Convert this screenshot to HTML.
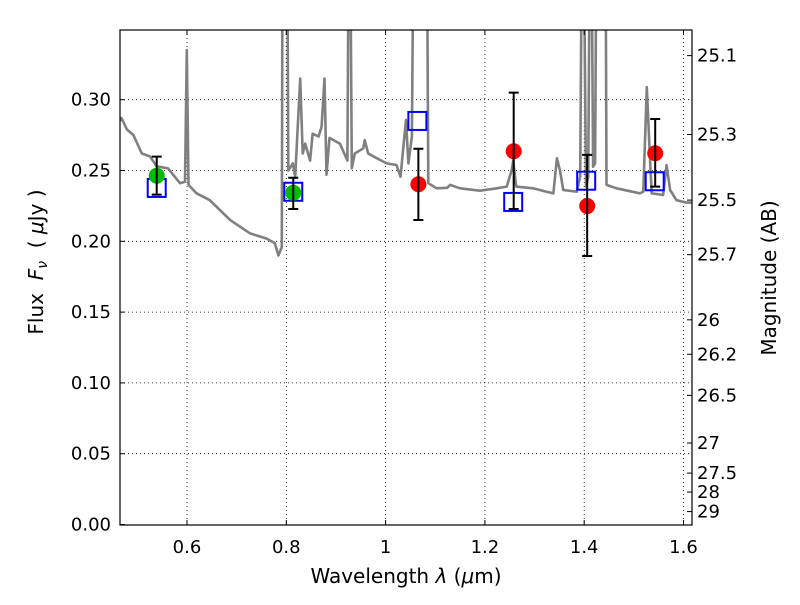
<!DOCTYPE html>
<html><head><meta charset="utf-8"><style>
body{margin:0;background:#fff;}
svg{font-family:"DejaVu Sans","Liberation Sans",sans-serif;}
</style></head><body>
<svg id="chart" width="800" height="600" viewBox="0 0 800 600" xmlns="http://www.w3.org/2000/svg">
<defs><clipPath id="pc"><rect x="120" y="30" width="572" height="495"/></clipPath></defs>
<rect x="0" y="0" width="800" height="600" fill="#fff"/>
<g id="grid"></g>
<g id="spec" clip-path="url(#pc)"></g>
<g id="marks" clip-path="url(#pc)"></g>
<rect x="120" y="30" width="572" height="495" fill="none" stroke="#000" stroke-width="1.2"/>
<g id="axes"></g>
<text x="406" y="583" font-size="20" text-anchor="middle">Wavelength  <tspan font-style="italic">λ</tspan> (<tspan font-style="italic">μ</tspan>m)</text>
<text transform="translate(43,262) rotate(-90)" font-size="20" text-anchor="middle" xml:space="preserve">Flux  <tspan font-style="italic">F</tspan><tspan font-style="italic" font-size="14" dy="4">ν</tspan><tspan dy="-4">  ( </tspan><tspan font-style="italic">μ</tspan>Jy )</text>
<text transform="translate(776,278) rotate(-90)" font-size="20" text-anchor="middle">Magnitude (AB)</text>
</svg>
<script>
const xTicks=[0.6,0.8,1.0,1.2,1.4,1.6];
const xTickLabels=["0.6","0.8","1","1.2","1.4","1.6"];
const yTicks=[0,0.05,0.10,0.15,0.20,0.25,0.30];
const yTickLabels=["0.00","0.05","0.10","0.15","0.20","0.25","0.30"];
const magTicks=[25.1,25.3,25.5,25.7,26,26.2,26.5,27,27.5,28,29];
const magTickLabels=["25.1","25.3","25.5","25.7","26","26.2","26.5","27","27.5","28","29"];
const specLam=[0.465,0.468,0.479,0.492,0.509,0.525,0.539,0.562,0.586,0.596,0.5995,0.603,0.619,0.646,0.687,0.727,0.760,0.777,0.784,0.791,0.793,0.797,0.801,0.804,0.813,0.818,0.828,0.833,0.838,0.848,0.853,0.865,0.871,0.877,0.881,0.887,0.908,0.923,0.927,0.932,0.938,0.955,0.958,0.965,0.975,1.002,1.022,1.030,1.041,1.046,1.053,1.058,1.082,1.086,1.103,1.124,1.130,1.150,1.190,1.224,1.244,1.254,1.257,1.263,1.297,1.324,1.338,1.345,1.351,1.358,1.385,1.392,1.397,1.4036,1.408,1.413,1.418,1.422,1.426,1.430,1.436,1.442,1.445,1.465,1.512,1.519,1.526,1.533,1.536,1.559,1.566,1.573,1.586,1.606,1.617];
const specFlux=[0.285,0.287,0.279,0.275,0.262,0.260,0.253,0.2515,0.241,0.242,0.335,0.240,0.234,0.229,0.215,0.2056,0.202,0.1986,0.190,0.196,0.50,0.40,0.50,0.250,0.255,0.2456,0.315,0.262,0.269,0.257,0.276,0.274,0.281,0.315,0.247,0.273,0.269,0.257,0.50,0.2516,0.262,0.2657,0.2715,0.262,0.260,0.255,0.2539,0.2456,0.2857,0.255,0.274,0.50,0.50,0.241,0.2374,0.2378,0.2398,0.2374,0.2357,0.2374,0.2386,0.2503,0.257,0.2386,0.2374,0.235,0.2339,0.2586,0.2503,0.2362,0.235,0.2456,0.50,0.2386,0.245,0.50,0.2527,0.255,0.50,0.50,0.50,0.50,0.2398,0.2374,0.2339,0.235,0.309,0.255,0.2339,0.2327,0.2539,0.2362,0.229,0.2273,0.2273];
const greenLam=[0.539,0.814];
const greenFlux=[0.2463,0.2343];
const greenErrLo=[0.2330,0.2228];
const greenErrHi=[0.2598,0.2449];
const redLam=[1.066,1.258,1.406,1.543];
const redFlux=[0.2403,0.2636,0.2249,0.2622];
const redErrLo=[0.2150,0.2228,0.1896,0.2386];
const redErrHi=[0.2654,0.3050,0.2610,0.2864];
const modelLam=[0.539,0.814,1.064,1.257,1.404,1.542];
const modelFlux=[0.2377,0.2350,0.2850,0.2278,0.2428,0.2424];

const NS='http://www.w3.org/2000/svg';
const X=v=>187+(v-0.6)*496.5;
const Y=v=>524.5-v*1416;
function mk(tag,attrs,parent){const e=document.createElementNS(NS,tag);for(const k in attrs)e.setAttribute(k,attrs[k]);parent.appendChild(e);return e;}
const grid=document.getElementById('grid'),axes=document.getElementById('axes'),spec=document.getElementById('spec'),marks=document.getElementById('marks');

xTicks.forEach((t,i)=>{const x=X(t);
 let g=mk('line',{x1:x,x2:x,y1:30,y2:525,stroke:'#000','stroke-width':0.8,'stroke-dasharray':'1,3'},grid);
 
 
 let a=mk('line',{x1:x,x2:x,y1:525,y2:520,stroke:'#000'},axes);
 
 
 let b=mk('line',{x1:x,x2:x,y1:30,y2:35,stroke:'#000'},axes);
 
 
 let tx=mk('text',{x:x,y:553,'font-size':18,'text-anchor':'middle'},axes);tx.textContent=xTickLabels[i];
 
 
});
yTicks.forEach((t,i)=>{const y=Y(t);
 if(t>0){let g=mk('line',{x1:120,x2:692,y1:y,y2:y,stroke:'#000','stroke-width':0.8,'stroke-dasharray':'1,3'},grid);
 
 }
 let a=mk('line',{x1:120,x2:125,y1:y,y2:y,stroke:'#000'},axes);
 
 
 let tx=mk('text',{x:111,y:y+6,'font-size':18,'text-anchor':'end'},axes);tx.textContent=yTickLabels[i];
 
 
});
magTicks.forEach((m,i)=>{const y=Y(Math.pow(10,(23.9-m)/2.5));
 let a=mk('line',{x1:692,x2:687,y1:y,y2:y,stroke:'#000'},axes);
 
 
 let tx=mk('text',{x:697,y:y+6,'font-size':18},axes);tx.textContent=magTickLabels[i];
 
 
});
let d=specLam.map((l,i)=>(i?'L':'M')+X(l).toFixed(1)+','+Y(specFlux[i]).toFixed(1)).join(' ');
let p=mk('path',{d:d,fill:'none',stroke:'#808080','stroke-width':2.6,'stroke-linejoin':'round'},spec);



function errbar(l,lo,hi){const x=X(l);
 let e=mk('path',{d:`M${x},${Y(lo)}V${Y(hi)}M${x-5},${Y(lo)}H${x+5}M${x-5},${Y(hi)}H${x+5}`,stroke:'#000','stroke-width':2,fill:'none'},marks);
 
 }
modelLam.forEach((l,i)=>{
 let r=mk('rect',{x:X(l)-9,y:Y(modelFlux[i])-9,width:18,height:18,fill:'none',stroke:'#0000ff','stroke-width':2},marks);
 
 });
greenLam.forEach((l,i)=>{
 let c=mk('circle',{cx:X(l),cy:Y(greenFlux[i]),r:8,fill:'#00bb00'},marks);
 
 
 errbar(l,greenErrLo[i],greenErrHi[i]);});
redLam.forEach((l,i)=>{
 let c=mk('circle',{cx:X(l),cy:Y(redFlux[i]),r:8,fill:'#ff0000'},marks);
 
 
 errbar(l,redErrLo[i],redErrHi[i]);});
</script>
</body></html>
